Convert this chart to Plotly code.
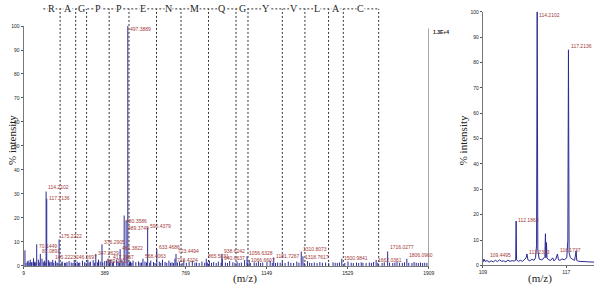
import plotly.graph_objects as go

# ---------------- main spectrum data ----------------
peak_mz = [70.1449, 87.0891, 114.2102, 117.2136, 145.2223, 175.2222, 246.2697, 347.2629,
           376.2905, 389.2401, 417.3957, 461.3822, 480.3586, 489.3749, 497.3889, 568.4063,
           590.4379, 633.4686, 718.4224, 723.4494, 865.5031, 938.6242, 940.6637, 1056.6328,
           1066.6607, 1181.7267, 1310.8073, 1318.7617, 1500.9841, 1662.0361, 1716.0277, 1806.0960]
peak_int = [9, 5, 31, 28, 2.5, 11, 2.5, 5, 9, 2, 2.5, 7, 21, 19, 100, 3, 16, 7, 3, 5, 3, 5, 3,
            4, 2.5, 3.5, 6, 4, 3, 2.5, 6, 3]
peak_text = ["70.1449", "87.0891", "114.2102", "117.2136", "145.2223", "175.2222", "246.2697",
             "347.2629", "376.2905", "389.2401", "417.3957", "461.3822", "480.3586", "489.3749",
             "497.3889", "568.4063", "590.4379", "633.4686", "718.4224", "723.4494", "865.5031",
             "938.6242", "940.6637", "1056.6328", "1066.6607", "1181.7267", "1310.8073",
             "1318.7617", "1500.9841", "1662.0361", "1716.0277", "1806.0960"]
# label centre heights (% intensity) where the labels sit
label_y = [8.4, 6.3, 32.8, 28.3, 3.9, 12.4, 3.9, 5.5, 10, 2.2, 3.9, 7.5, 18.7, 16, 98.8, 4,
           16.5, 8, 2.6, 6.4, 4.3, 6.3, 3.2, 5.2, 2.5, 4.2, 7.1, 3.9, 3.5, 2.6, 8, 4.7]

minor_mz = [15, 20, 26, 30, 35, 40, 45, 48, 55, 60, 62, 66, 78, 82, 95, 101, 106, 110, 125, 129,
            132, 138, 150, 158, 165, 170, 185, 190, 200, 206, 212, 222, 232, 240, 252, 260, 266,
            272, 285, 295, 302, 310, 316, 322, 335, 342, 355, 360, 368, 380, 398, 405, 412, 425,
            430, 445, 452, 458, 470, 475, 505, 510, 516, 522, 535, 548, 555, 562, 578, 585, 600,
            605, 618, 625, 645, 652, 660, 672, 680, 690, 698, 705, 712, 730, 740, 752, 760, 772,
            785, 800, 812, 820, 832, 845, 858, 870, 880, 890, 900, 912, 922, 935, 955, 965, 975,
            990, 1000, 1010, 1020, 1030, 1045, 1058, 1072, 1090, 1100, 1110, 1120, 1130, 1150,
            1165, 1175, 1190, 1200, 1212, 1222, 1235, 1250, 1262, 1275, 1290, 1300, 1325, 1340,
            1350, 1360, 1372, 1385, 1398, 1410, 1425, 1440, 1460, 1470, 1480, 1490, 1515, 1530,
            1545, 1555, 1570, 1580, 1592, 1600, 1615, 1630, 1640, 1650, 1670, 1690, 1700, 1725,
            1740, 1750, 1760, 1772, 1785, 1795, 1815, 1830, 1840, 1850, 1860, 1870, 1880, 1890, 1900]
minor_int = [6.5, 1.2, 1.8, 2.2, 1.4, 2.6, 1.5, 1.6, 3.2, 1.4, 1.8, 1.3, 2.6, 1.5, 3.0, 1.6,
             2.2, 1.4, 2.4, 1.3, 1.8, 1.6, 1.3, 2.2, 1.4, 1.2, 1.5, 1.8, 1.3, 1.2, 1.6, 2.0,
             1.4, 1.2, 1.3, 1.8, 1.2, 1.4, 2.2, 1.5, 1.3, 2.6, 1.4, 1.8, 2.4, 1.3, 1.5, 2.6,
             1.8, 1.4, 2.2, 3.0, 1.5, 1.4, 1.8, 2.6, 1.8, 1.3, 2.2, 1.4, 1.6, 1.8, 1.3, 2.2,
             1.6, 1.9, 1.3, 1.4, 1.8, 1.4, 1.3, 2.2, 1.6, 1.2, 1.8, 1.3, 2.6, 1.6, 1.3, 2.2,
             1.3, 1.5, 1.2, 1.4, 1.8, 1.2, 2.4, 1.3, 1.6, 2.2, 1.3, 1.4, 1.2, 1.8, 1.3, 1.4,
             2.2, 1.3, 1.6, 1.2, 1.8, 1.3, 1.4, 1.2, 2.0, 1.5, 1.3, 1.8, 1.2, 1.4, 2.4, 1.3,
             1.2, 1.5, 1.3, 1.8, 1.2, 1.4, 1.6, 2.2, 1.3, 1.2, 1.4, 1.3, 1.8, 1.2, 1.8, 1.3,
             1.2, 1.8, 1.3, 1.2, 2.0, 1.3, 1.2, 1.4, 1.2, 1.6, 1.3, 1.4, 1.2, 1.5, 1.3, 1.2,
             1.4, 1.2, 1.8, 1.3, 1.2, 1.4, 1.2, 1.5, 1.3, 1.2, 1.4, 1.2, 1.6, 1.3, 1.2, 1.5,
             1.3, 1.2, 1.4, 1.8, 1.3, 1.2, 1.5, 1.3, 1.2, 1.6, 1.3, 1.2, 1.4, 1.2, 1.3, 1.2]

x_ticks = [9, 389, 769, 1149, 1529, 1909]
y_ticks = [0, 10, 20, 30, 40, 50, 60, 70, 80, 90, 100]

# peptide sequence boundaries (m/z) and residues
seq_bounds = [101, 180, 253, 304, 410, 503, 632, 747, 876, 1005, 1061, 1222, 1328, 1439, 1508, 1674]
seq_letters = ["R", "A", "G", "P", "P", "E", "N", "M", "Q", "G", "Y", "V", "L", "A", "C"]

# ---------------- inset (zoom) data ----------------
inset_mz = [109.0, 109.1, 109.2, 109.4, 109.6, 109.8, 110.0, 110.2, 110.4, 110.6, 110.8, 111.0,
            111.2, 111.4, 111.6, 111.8, 112.0, 112.15, 112.19, 112.23, 112.4, 112.6, 112.8,
            113.0, 113.15, 113.23, 113.32, 113.5, 113.7, 113.9, 114.05, 114.15, 114.21, 114.27,
            114.4, 114.6, 114.8, 114.95, 115.0, 115.05, 115.1, 115.15, 115.3, 115.5, 115.7,
            115.8, 116.0, 116.15, 116.25, 116.4, 116.6, 116.8, 117.05, 117.15, 117.21, 117.27,
            117.4, 117.6, 117.8, 117.95, 118.0, 118.2, 118.5, 118.8, 119.1, 119.4, 119.7]
inset_int = [1.2, 2.5, 1.6, 1.9, 1.3, 1.8, 1.4, 2.0, 1.5, 2.2, 1.6, 1.8,
             1.4, 2.1, 1.6, 1.9, 1.7, 2.0, 17.5, 2.2, 1.6, 2.0, 1.6,
             2.2, 3.0, 4.5, 2.2, 1.8, 2.4, 2.0, 3.0, 8, 100, 6,
             2.5, 2.2, 2.6, 3.5, 12.5, 3, 9, 3, 2.2, 2.0, 3.0,
             1.8, 2.5, 4.5, 2.2, 2.0, 2.6, 2.2, 3, 10, 85, 5,
             3, 2.4, 2.0, 5.8, 2.0, 1.6, 1.4, 1.5, 1.4, 1.5, 1.3]
inset_lbl_mz = [109.4495, 112.1863, 113.2313, 114.2102, 116.1737, 117.2136]
inset_lbl_text = ["109.4495", "112.1863", "113.2313", "114.2102", "116.1737", "117.2136"]
inset_lbl_y = [4.2, 17.8, 5.2, 98.8, 6.2, 86.5]
inset_x_ticks = [109, 117]

# ---------------- build figure ----------------
BLUE = "#2a2a96"
LBL = "#a23a3a"
SANS = "Arial, Liberation Sans"


def sticks(xs, ys):
    X, Y = [], []
    for a, b in zip(xs, ys):
        X += [a, a, None]
        Y += [0, b, None]
    return X, Y


fig = go.Figure()

mx, my = sticks(minor_mz, minor_int)
fig.add_trace(go.Scatter(x=mx, y=my, mode="lines", line=dict(color=BLUE, width=1),
                         hoverinfo="skip", showlegend=False, xaxis="x", yaxis="y"))
px_, py_ = sticks(peak_mz, peak_int)
fig.add_trace(go.Scatter(x=px_, y=py_, mode="lines", line=dict(color=BLUE, width=1),
                         hoverinfo="skip", showlegend=False, xaxis="x", yaxis="y"))

fig.add_trace(go.Scatter(x=inset_mz, y=inset_int, mode="lines", line=dict(color=BLUE, width=1),
                         hoverinfo="skip", showlegend=False, xaxis="x2", yaxis="y2"))

MAIN_X = [20 / 600, 432 / 600]
MAIN_Y = [19.5 / 288, 264.5 / 288]
INS_X = [487 / 600, 1.0]
INS_Y = [20 / 288, 279 / 288]

axis_common = dict(showgrid=False, zeroline=False, ticks="outside", ticklen=2, tickwidth=1,
                   tickcolor="#555", linecolor="#777", linewidth=1, showline=True,
                   tickfont=dict(family=SANS, size=5, color="#222"))

fig.update_layout(
    width=600, height=288, margin=dict(l=0, r=0, t=0, b=0),
    paper_bgcolor="white", plot_bgcolor="white",
    xaxis=dict(domain=MAIN_X, range=[9, 1909], tickvals=x_ticks, anchor="y", **axis_common),
    yaxis=dict(domain=MAIN_Y, range=[0, 100], tickvals=y_ticks, anchor="x", **axis_common),
    xaxis2=dict(domain=INS_X, range=[109, 119.66], tickvals=inset_x_ticks, anchor="y2", **axis_common),
    yaxis2=dict(domain=INS_Y, range=[0, 100], tickvals=y_ticks, anchor="x2", **axis_common),
)

ann = []
shapes = []
for m, t, ly in zip(peak_mz, peak_text, label_y):
    ann.append(dict(x=m, y=ly, xref="x", yref="y", text=t, showarrow=False, xanchor="left",
                    yanchor="middle", xshift=0, font=dict(family=SANS, size=5, color=LBL)))
for m, t, ly in zip(inset_lbl_mz, inset_lbl_text, inset_lbl_y):
    ann.append(dict(x=m, y=ly, xref="x2", yref="y2", text=t, showarrow=False, xanchor="left",
                    yanchor="middle", xshift=0, font=dict(family=SANS, size=5, color=LBL)))

# sequence ladder
TOP = (288 - 6) / 288
DASH = dict(color="#333", width=1, dash="2px,2px")
shapes.append(dict(type="line", xref="x", yref="paper", x0=seq_bounds[0], x1=seq_bounds[-1],
                   y0=TOP, y1=TOP, line=DASH))
for b in seq_bounds[1:]:
    shapes.append(dict(type="line", xref="x", yref="paper", x0=b, x1=b, y0=MAIN_Y[0], y1=TOP,
                       line=DASH))
for i, L in enumerate(seq_letters):
    cx = (seq_bounds[i] + seq_bounds[i + 1]) / 2
    ann.append(dict(x=cx, y=TOP, xref="x", yref="paper", text=L, showarrow=False,
                    xanchor="center", yanchor="middle", bgcolor="white",
                    font=dict(family="Liberation Serif, Times New Roman", size=10, color="#222"),
                    borderpad=0))

# intensity scale marker at right edge
shapes.append(dict(type="line", xref="x", yref="y", x0=x_ticks[-1], x1=x_ticks[-1], y0=0, y1=99,
                   line=dict(color="#666", width=1)))
ann.append(dict(x=x_ticks[-1], y=97.5, xref="x", yref="y", text="<b>1.3E+4</b>", showarrow=False,
                xanchor="left", yanchor="middle", xshift=2,
                font=dict(family=SANS, size=5, color="#222")))

# axis titles
serif = dict(family="Liberation Serif, Times New Roman", size=11, color="#222")
ann.append(dict(x=8 / 600, y=(288 - 140) / 288, xref="paper", yref="paper", text="% intensity",
                textangle=-90, showarrow=False, xanchor="center", yanchor="middle", font=serif))
ann.append(dict(x=245 / 600, y=(288 - 281) / 288, xref="paper", yref="paper", text="(m/z)",
                showarrow=False, xanchor="center", yanchor="middle", font=serif))
ann.append(dict(x=467 / 600, y=(288 - 140) / 288, xref="paper", yref="paper", text="% intensity",
                textangle=-90, showarrow=False, xanchor="center", yanchor="middle", font=serif))
ann.append(dict(x=545 / 600, y=(288 - 281) / 288, xref="paper", yref="paper", text="(m/z)",
                showarrow=False, xanchor="center", yanchor="middle", font=serif))

fig.update_layout(annotations=ann, shapes=shapes)
fig.write_html("out.html", config={"displayModeBar": False},
               post_script="document.body.style.margin='0';document.body.style.overflow='hidden';")
